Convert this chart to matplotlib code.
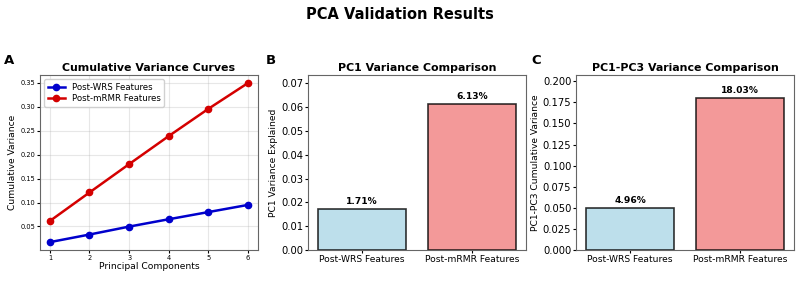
import numpy as np
import matplotlib
matplotlib.use('Agg')
import matplotlib.pyplot as plt
from matplotlib.ticker import MultipleLocator

# Données
components = [1, 2, 3, 4, 5, 6]
wrs_cumvar = [0.0171, 0.0330, 0.0496, 0.0650, 0.0800, 0.0950]
mrmr_cumvar = [0.0613, 0.1210, 0.1803, 0.2390, 0.2960, 0.3500]
groups = ['Post-WRS Features', 'Post-mRMR Features']
pc1_var = [0.0171, 0.0613]
pc13_var = [0.0496, 0.1803]
bar_colors = ['lightblue', 'lightcoral']

fig, axes = plt.subplots(1, 3, figsize=(7.99, 2.81), dpi=100)
plt.subplots_adjust(left=0.050, right=0.994, top=0.733, bottom=0.110, wspace=0.23)

fig.suptitle('PCA Validation Results', fontsize=10.5, fontweight='bold', y=0.975)

# A : courbes de variance cumulée
ax = axes[0]
ax.plot(components, wrs_cumvar, 'o-', color='#0000cc', linewidth=1.8, markersize=4.5,
        label='Post-WRS Features')
ax.plot(components, mrmr_cumvar, 'o-', color='#d40000', linewidth=1.8, markersize=4.5,
        label='Post-mRMR Features')
ax.set_xlabel('Principal Components', fontsize=6.6, labelpad=1)
ax.set_ylabel('Cumulative Variance', fontsize=6.6, labelpad=2)
ax.set_title('Cumulative Variance Curves', fontsize=7.9, fontweight='bold', pad=3)
ax.tick_params(labelsize=4.8, length=2, pad=1.5)
ax.legend(fontsize=6.2, loc='upper left', handlelength=2, borderpad=0.4,
          labelspacing=0.3, framealpha=0.9)
ax.grid(True, alpha=0.3)

# B : variance PC1
ax = axes[1]
bars = ax.bar(groups, pc1_var, color=bar_colors, edgecolor='black', linewidth=1.2, alpha=0.8)
ax.set_ylabel('PC1 Variance Explained', fontsize=6.6, labelpad=2)
ax.set_title('PC1 Variance Comparison', fontsize=7.9, fontweight='bold', pad=3)
ax.set_ylim(0, max(pc1_var) * 1.2)
ax.yaxis.set_major_locator(MultipleLocator(0.01))
for b, v in zip(bars, pc1_var):
    ax.text(b.get_x() + b.get_width() / 2, v + max(pc1_var) * 0.02, f'{v * 100:.2f}%',
            ha='center', va='bottom', fontsize=6.6, fontweight='bold')

# C : variance PC1-PC3
ax = axes[2]
bars = ax.bar(groups, pc13_var, color=bar_colors, edgecolor='black', linewidth=1.2, alpha=0.8)
ax.set_ylabel('PC1-PC3 Cumulative Variance', fontsize=6.6, labelpad=2)
ax.set_title('PC1-PC3 Variance Comparison', fontsize=7.9, fontweight='bold', pad=3)
ax.set_ylim(0, max(pc13_var) * 1.15)
ax.yaxis.set_major_locator(MultipleLocator(0.025))
for b, v in zip(bars, pc13_var):
    ax.text(b.get_x() + b.get_width() / 2, v + max(pc13_var) * 0.02, f'{v * 100:.2f}%',
            ha='center', va='bottom', fontsize=6.6, fontweight='bold')

for ax in axes[1:]:
    ax.tick_params(axis='y', labelsize=7.2, length=2, pad=1.5)
    ax.tick_params(axis='x', labelsize=6.6, length=2, pad=1.5)

for ax in axes:
    for s in ax.spines.values():
        s.set_color('#666666')
        s.set_linewidth(0.8)

# Lettres des panneaux
for x, letter in zip([0.005, 0.333, 0.665], ['A', 'B', 'C']):
    fig.text(x, 0.785, letter, fontsize=9.5, fontweight='bold', va='center')

plt.savefig('out.png', dpi=100)
